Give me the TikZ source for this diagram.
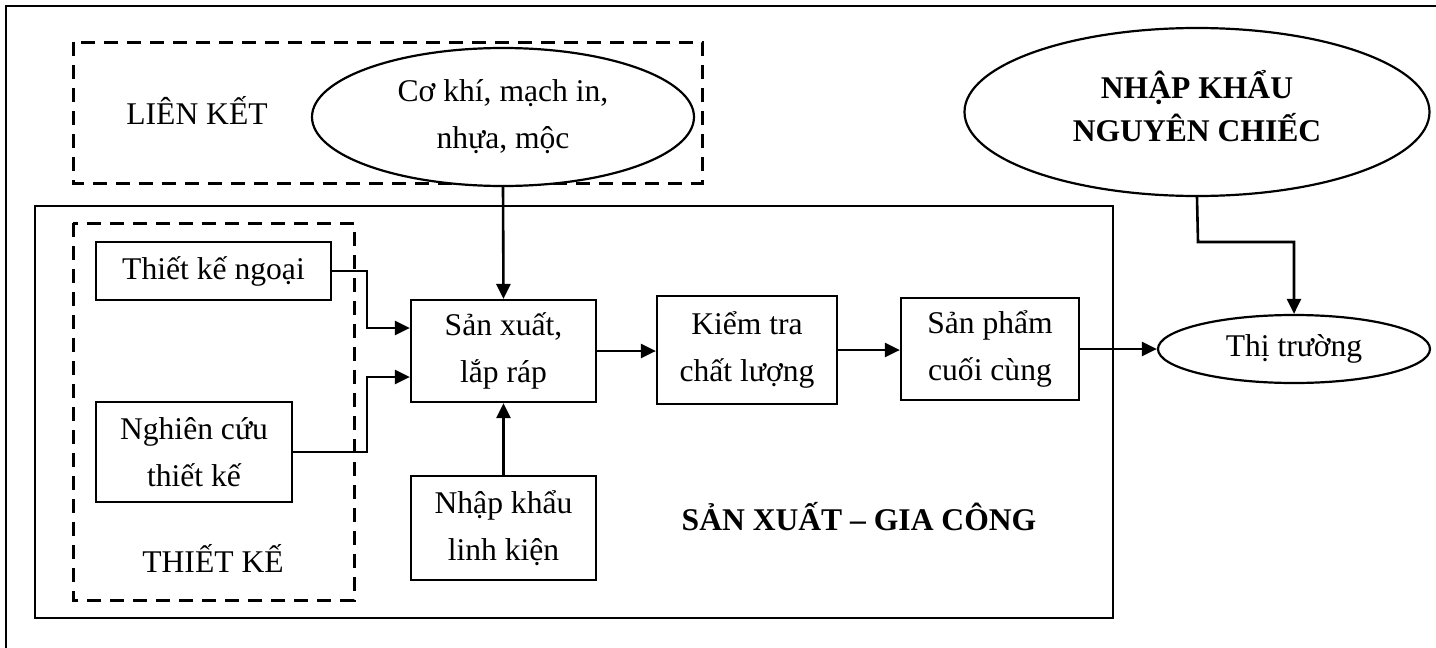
\documentclass[tikz,border=0pt]{standalone}
\usepackage{fontspec}
\setmainfont{Liberation Serif}
\usetikzlibrary{shapes.geometric,arrows.meta}
\begin{document}
\begin{tikzpicture}[x=0.5pt,y=-0.5pt,
  every node/.style={font=\fontsize{15.8}{23.5}\selectfont, align=center, inner sep=0pt},
  stepbox/.style={draw, line width=1.1pt, rectangle},
  oval/.style={draw, line width=1.1pt, ellipse},
  groupbox/.style={draw, line width=1.5pt, dash pattern=on 7pt off 4.5pt},
  flow/.style={line width=1.3pt, -{Triangle[length=7.5pt,width=7pt]}}]
\useasboundingbox (0,0) rectangle (1436,648);

% outer frame (open to the right and bottom)
\draw[line width=1.2pt] (6,648) -- (6,6) -- (1436,6);

% groups
\draw[groupbox] (73,42) rectangle (702,183);
\draw[line width=1.1pt] (35,206) rectangle (1113,618);
\draw[groupbox] (73,223) rectangle (354,600);

% group labels
\node (lk) at (197,110) {LIÊN KẾT};
\node (tk) at (213,558) {THIẾT KẾ};
\node (sxgc) at (859,517) {\bfseries SẢN XUẤT – GIA CÔNG};

% ovals
\node[oval, fill=white, minimum width=191pt, minimum height=69pt] (ck) at (503,117) {Cơ khí, mạch in,\\nhựa, mộc};
\node[oval, minimum width=232.5pt, minimum height=84pt] (nkc) at (1197,112) {};
\node[font=\fontsize{15.8}{21.5}\selectfont\bfseries] (nkct) at (1197,106) {NHẬP KHẨU\\NGUYÊN CHIẾC};
\node[oval, minimum width=136pt, minimum height=34pt] (tt) at (1294,349) {Thị trường};

% process boxes
\node[stepbox, minimum width=117.5pt, minimum height=29pt] (tkn) at (213.5,271) {Thiết kế ngoại};
\node[stepbox, minimum width=98pt, minimum height=50pt] (nc) at (194,452) {Nghiên cứu\\thiết kế};
\node[stepbox, minimum width=92.5pt, minimum height=51pt] (sx) at (503.5,351) {Sản xuất,\\lắp ráp};
\node[stepbox, minimum width=92.5pt, minimum height=52pt] (nk) at (503.5,528) {Nhập khẩu\\linh kiện};
\node[stepbox, minimum width=90pt, minimum height=54pt] (kt) at (747,350) {Kiểm tra\\chất lượng};
\node[stepbox, minimum width=89pt, minimum height=51pt] (sp) at (990,349) {Sản phẩm\\cuối cùng};

% connectors
\draw[flow] (tkn.east) -- (367,271) -- (367,328) -- (sx.west |- 0,328);
\draw[flow] (nc.east) -- (367,452) -- (367,377) -- (sx.west |- 0,377);
\draw[flow] (ck.south) -- (sx.north);
\draw[flow] (nk.north) -- (sx.south);
\draw[flow] (sx.east) -- (kt.west |- sx.east);
\draw[flow] (kt.east) -- (sp.west |- kt.east);
\draw[flow] (sp.east) -- (tt.west);
\draw[flow] (nkc.south) -- (1198,242) -- (1294,242) -- (tt.north);
\end{tikzpicture}
\end{document}
